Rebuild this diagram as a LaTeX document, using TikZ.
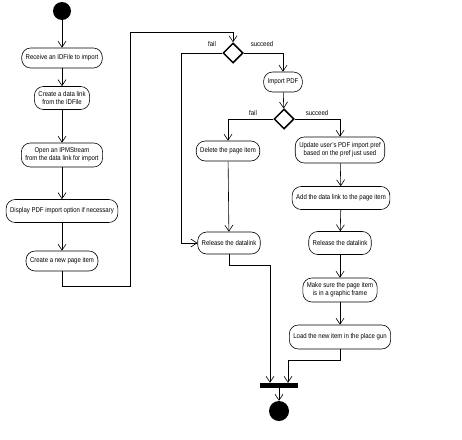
\documentclass[tikz,border=0pt]{standalone}
\usepackage{fontspec}
\setmainfont{Liberation Sans}[FakeStretch=0.86]
\usetikzlibrary{positioning,arrows.meta,shapes.geometric}

\begin{document}
\begin{tikzpicture}[x=1pt, y=-1pt,
  act/.style={draw, rounded corners=9pt, minimum height=20pt, inner xsep=4pt,
    inner ysep=2pt, align=center, font=\fontsize{7}{8}\selectfont, line width=0.6pt},
  dec/.style={draw, diamond, minimum width=20pt, minimum height=20pt, inner sep=0pt,
    line width=1.5pt},
  guard/.style={font=\fontsize{7}{8}\selectfont},
  arr/.style={-{Straight Barb[length=6pt, width=8pt]}, line width=0.6pt}
]
  \useasboundingbox (0,0) rectangle (462,439);
  % Start and left column
  \node[circle, fill=black, minimum size=18pt, inner sep=0pt] (start) at (62,11) {};
  \node[act] (recv) at (62,58)  {Receive an IDFile to import};
  \node[act, minimum height=23pt] (link) at (62,98)  {Create a data link\\from the IDFile};
  \node[act, minimum height=24pt] (stream) at (62,155) {Open an IPMStream\\from the data link for import};
  \node[act, minimum height=23pt] (opts) at (62,211) {Display PDF import option if necessary};
  \node[act] (item) at (62,261) {Create a new page item};
  % Import branch
  \node[dec] (dImport) at (233,53) {};
  \node[guard] at (212,44) {fail};
  \node[guard] at (262,44) {succeed};
  \node[act] (import) at (283,82) {Import PDF};
  \node[dec] (dResult) at (284,119) {};
  \node[guard] at (253,113) {fail};
  \node[guard] at (317,113) {succeed};
  % Fail column
  \node[act] (delete) at (228,151) {Delete the page item};
  \node[act, minimum height=22pt] (relFail) at (229,243) {Release the datalink};
  % Succeed column
  \node[act, minimum height=26pt] (pref) at (340,150) {Update user's PDF import pref\\based on the pref just used};
  \node[act, minimum height=23pt] (addLink) at (341,198) {Add the data link to the page item};
  \node[act, minimum height=23pt] (relOk) at (340,243) {Release the datalink};
  \node[act, minimum height=24pt] (frame) at (340,290) {Make sure the page item\\is in a graphic frame};
  \node[act, minimum height=24pt] (gun) at (340,337) {Load the new item in the place gun};
  % Join and end
  \node[fill=black, minimum width=38pt, minimum height=5pt, inner sep=0pt] (join) at (279,385.5) {};
  \node[circle, fill=black, minimum size=20pt, inner sep=0pt] (finish) at (279,411) {};
  % Flows
  \draw[arr] (start) -- (recv);
  \draw[arr] (recv) -- (link);
  \draw[arr] (link) -- (stream);
  \draw[arr] (stream) -- (opts);
  \draw[arr] (opts) -- (item);
  \draw[arr] (item.south) -- ++(0,15) -| (130,32) -| (dImport.north);
  \draw[arr] (dImport.west) -- ++(-41,0) |- (relFail.west);
  \draw[arr] (dImport.east) -| (import.north);
  \draw[arr] (import) -- (dResult);
  \draw[arr] (dResult.west) -| (delete.north);
  \draw[arr] (dResult.east) -| (pref.north);
  \draw[arr] (delete) -- (relFail);
  \draw[arr] (pref) -- (addLink);
  \draw[arr] (addLink) -- (relOk);
  \draw[arr] (relOk) -- (frame);
  \draw[arr] (frame) -- (gun);
  \draw[arr] (relFail.south) -- ++(0,11) -| ([xshift=-9pt]join.north);
  \draw[arr] (gun.south) -- ++(0,11) -| ([xshift=9pt]join.north);
  \draw[arr] (join) -- (finish);
\end{tikzpicture}
\end{document}
